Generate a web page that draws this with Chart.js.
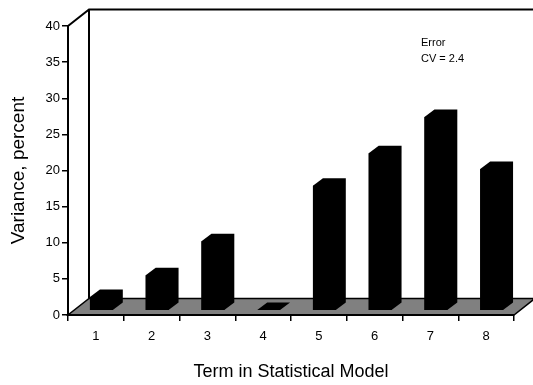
<!DOCTYPE html>
<html>
<head>
<meta charset="utf-8">
<script src="https://cdn.jsdelivr.net/npm/chart.js@4"></script>
<style>
  html, body { margin: 0; padding: 0; background: #fff; }
  #wrap { width: 533px; height: 385px; }
</style>
</head>
<body>
<div id="wrap"><canvas id="chart" width="533" height="385"></canvas></div>
<script>
const terms = ['1', '2', '3', '4', '5', '6', '7', '8'];
const variance = [1.9, 4.9, 9.6, 0.1, 17.3, 21.8, 26.8, 19.6];
const yTicks = [0, 5, 10, 15, 20, 25, 30, 35, 40];
const noteLines = ['Error', 'CV = 2.4'];

// depth of the walls / floor and of the columns
const WALL = { dx: 21, dy: -16.5 };
const BAR_SHIFT = { dx: 5.5, dy: -4.3 };
const BAR_DEPTH = { dx: 10, dy: -7.5 };

Chart.defaults.font.family = '"Liberation Sans", Arial, sans-serif';
Chart.defaults.color = '#000';

const box3d = {
    id: 'box3d',
    beforeDatasetsDraw(chart) {
        const { ctx, chartArea: a } = chart;
        ctx.save();
        // floor
        ctx.beginPath();
        ctx.moveTo(a.left, a.bottom);
        ctx.lineTo(a.right, a.bottom);
        ctx.lineTo(a.right + WALL.dx, a.bottom + WALL.dy);
        ctx.lineTo(a.left + WALL.dx, a.bottom + WALL.dy);
        ctx.closePath();
        ctx.fillStyle = '#808080';
        ctx.fill();
        ctx.strokeStyle = '#000';
        ctx.lineWidth = 1.5;
        ctx.stroke();
        // front x axis again on top of floor
        ctx.lineWidth = 2;
        ctx.beginPath();
        ctx.moveTo(a.left, a.bottom);
        ctx.lineTo(a.right, a.bottom);
        ctx.stroke();
        // back wall edges
        ctx.beginPath();
        ctx.moveTo(a.left, a.top);
        ctx.lineTo(a.left + WALL.dx, a.top + WALL.dy);
        ctx.lineTo(chart.width, a.top + WALL.dy);
        ctx.moveTo(a.left + WALL.dx, a.top + WALL.dy);
        ctx.lineTo(a.left + WALL.dx, a.bottom + WALL.dy);
        ctx.stroke();
        ctx.restore();

        // columns sit in the middle of the depth
        ctx.save();
        ctx.translate(BAR_SHIFT.dx, BAR_SHIFT.dy);
    },
    afterDatasetsDraw(chart) {
        const { ctx } = chart;
        chart.getDatasetMeta(0).data.forEach(el => {
            const p = el.getProps(['x', 'y', 'base', 'width'], true);
            const l = p.x - p.width / 2, r = p.x + p.width / 2;
            // whole column outline: front, top and side in one black shape
            ctx.beginPath();
            ctx.moveTo(l, p.base);
            ctx.lineTo(l, p.y);
            ctx.lineTo(l + BAR_DEPTH.dx, p.y + BAR_DEPTH.dy);
            ctx.lineTo(r + BAR_DEPTH.dx, p.y + BAR_DEPTH.dy);
            ctx.lineTo(r + BAR_DEPTH.dx, p.base + BAR_DEPTH.dy);
            ctx.lineTo(r, p.base);
            ctx.closePath();
            ctx.fillStyle = '#000';
            ctx.fill();
        });
        ctx.restore();
    },
    afterDraw(chart) {
        const { ctx } = chart;
        ctx.save();
        ctx.font = '11px "Liberation Sans", Arial, sans-serif';
        ctx.fillStyle = '#000';
        ctx.textBaseline = 'alphabetic';
        noteLines.forEach((t, i) => ctx.fillText(t, 421, 46 + i * 16));
        ctx.restore();
    }
};

new Chart(document.getElementById('chart'), {
    type: 'bar',
    data: {
        labels: terms,
        datasets: [{
            data: variance,
            backgroundColor: '#000',
            borderWidth: 0,
            barPercentage: 0.41,
            categoryPercentage: 1
        }]
    },
    options: {
        responsive: false,
        animation: false,
        layout: { padding: { top: 26, right: 19, bottom: 0, left: 0 } },
        plugins: { legend: { display: false }, tooltip: { enabled: false } },
        scales: {
            x: {
                afterFit(s) { s.height = 70; },
                grid: { drawOnChartArea: false, drawTicks: true, tickLength: 6, color: '#000', lineWidth: 1.5, offset: true },
                border: { display: true, color: '#000', width: 2 },
                ticks: { font: { size: 13 }, padding: 8, maxRotation: 0 },
                title: { display: true, text: 'Term in Statistical Model', font: { size: 18 }, padding: { top: 0, bottom: 2 } }
            },
            y: {
                min: 0,
                max: 40,
                afterFit(s) { s.width = 68; },
                afterBuildTicks(s) { s.ticks = yTicks.map(v => ({ value: v })); },
                grid: { drawOnChartArea: false, drawTicks: true, tickLength: 6, color: '#000', lineWidth: 1.5 },
                border: { display: true, color: '#000', width: 2 },
                ticks: { font: { size: 13 }, padding: 2 },
                title: { display: true, text: 'Variance, percent', font: { size: 19 }, padding: { top: 7, bottom: 0 } }
            }
        }
    },
    plugins: [box3d]
});
</script>
</body>
</html>
